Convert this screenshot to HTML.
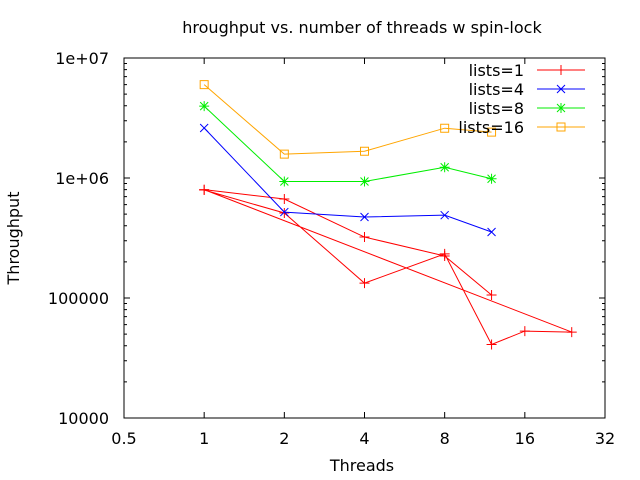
<!DOCTYPE html>
<html><head><meta charset="utf-8"><style>
html,body{margin:0;padding:0;background:#fff;}
svg{display:block;font-family:"DejaVu Sans","Liberation Sans",sans-serif;}
</style></head><body>
<svg id="chart" width="640" height="480" viewBox="0 0 640 480">
<rect x="0" y="0" width="640" height="480" fill="#fff"/>
<text x="362" y="33" font-size="16" text-anchor="middle">hroughput vs. number of threads w spin-lock</text>
<text x="362" y="471" font-size="16" text-anchor="middle">Threads</text>
<text x="19" y="238" font-size="16" text-anchor="middle" transform="rotate(-90 19 238)">Throughput</text>
<g id="axes"></g>
<g id="series"></g>
<g id="legend"></g>
<rect x="124" y="58" width="481" height="360" fill="none" stroke="#000" stroke-width="1"/>
</svg>
<script>
const xTicks = [0.5, 1, 2, 4, 8, 16, 32];
const xTickLabels = ["0.5", "1", "2", "4", "8", "16", "32"];
const yTicks = [10000, 100000, 1000000, 10000000];
const yTickLabels = ["10000", "100000", "1e+06", "1e+07"];
const seriesNames = ["lists=1", "lists=4", "lists=8", "lists=16"];
const threads1 = [1, 2, 4, 8, 12, 16, 24, 1, 2, 4, 8, 12];
const values1 = [794000, 511000, 133000, 233000, 41000, 53000, 52000, 800000, 668000, 322000, 224000, 106000];
const threadsN = [1, 2, 4, 8, 12];
const values4 = [2610000, 520000, 473000, 490000, 355000];
const values8 = [3970000, 935000, 935000, 1230000, 986000];
const values16 = [6000000, 1580000, 1670000, 2600000, 2410000];

const L=124,R=605,T=58,B=418;
const NS="http://www.w3.org/2000/svg";
function xs(v){return L+(Math.log2(v)-Math.log2(0.5))/(Math.log2(32)-Math.log2(0.5))*(R-L);}
function ys(v){return B-(Math.log10(v)-4)/3*(B-T);}
function mk(tag,attrs,parent){const e=document.createElementNS(NS,tag);for(const k in attrs)e.setAttribute(k,attrs[k]);parent.appendChild(e);return e;}
const axes=document.getElementById('axes');
xTicks.forEach((t,i)=>{
  const x=xs(t);
  const g=mk('g',{},axes);
  
  
  mk('path',{d:`M${x} ${B}v-6M${x} ${T}v6`,stroke:'#000','stroke-width':1},g);
  const tx=mk('text',{x:x,y:444,'font-size':16,'text-anchor':'middle'},g);
  tx.textContent=xTickLabels[i];
});
yTicks.forEach((t,i)=>{
  const y=ys(t);
  const g=mk('g',{},axes);
  
  
  mk('path',{d:`M${L} ${y}h6M${R} ${y}h-6`,stroke:'#000','stroke-width':1},g);
  const tx=mk('text',{x:109,y:y+6,'font-size':16,'text-anchor':'end'},g);
  tx.textContent=yTickLabels[i];
  if(i<yTicks.length-1){
    for(let m=2;m<=9;m++){
      const ym=ys(t*m);
      mk('path',{d:`M${L} ${ym}h3M${R} ${ym}h-3`,stroke:'#000','stroke-width':1},g);
    }
  }
});
const colors=['#ff0000','#0000ff','#00ee00','#ffa500'];
const marks=['plus','cross','star','square'];
function marker(type,x,y,c,p){
  let d;
  if(type==='plus')d=`M${x-5} ${y}h10M${x} ${y-5}v10`;
  else if(type==='cross')d=`M${x-4} ${y-4}l8 8M${x-4} ${y+4}l8 -8`;
  else if(type==='star')d=`M${x-5} ${y}h10M${x} ${y-5}v10M${x-4} ${y-4}l8 8M${x-4} ${y+4}l8 -8`;
  else d=`M${x-4} ${y-4}h8v8h-8z`;
  const m=mk('path',{d:d,stroke:c,'stroke-width':1,fill:'none'},p);
  return m;
}
const sg=document.getElementById('series');
const allX=[threads1,threadsN,threadsN,threadsN];
const allY=[values1,values4,values8,values16];
allY.forEach((vals,si)=>{
  const g=mk('g',{},sg);
  
  
  const pts=vals.map((v,i)=>xs(allX[si][i])+','+ys(v)).join(' ');
  mk('polyline',{points:pts,fill:'none',stroke:colors[si],'stroke-width':1},g);
  vals.forEach((v,i)=>{
    const m=marker(marks[si],xs(allX[si][i]),ys(v),colors[si],g);
    
    
  });
});
const lg=document.getElementById('legend');
seriesNames.forEach((n,i)=>{
  const y=70+i*19;
  const g=mk('g',{},lg);
  
  
  const tx=mk('text',{x:524,y:y+6,'font-size':16,'text-anchor':'end'},g);
  tx.textContent=n;
  mk('path',{d:`M537 ${y}h48`,stroke:colors[i],'stroke-width':1},g);
  marker(marks[i],561,y,colors[i],g);
});
</script>
</body></html>
